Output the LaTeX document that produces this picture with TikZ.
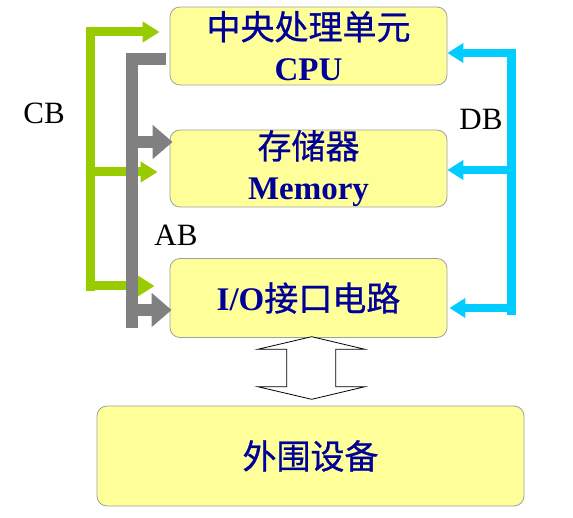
\documentclass[tikz,border=0pt]{standalone}
\usepackage{fontspec}
\setmainfont{Liberation Serif}
\newfontfamily\cjk[FakeBold=0.8]{Noto Sans CJK SC}
\usetikzlibrary{arrows.meta}
\definecolor{boxfill}{HTML}{FFFF99}
\definecolor{boxline}{HTML}{A0A0A0}
\definecolor{txtblue}{HTML}{000099}
\definecolor{cbgreen}{HTML}{99CC00}
\definecolor{abgray}{HTML}{808080}
\definecolor{dbblue}{HTML}{00CCFF}
\newcommand{\zh}[1]{{\fontsize{34}{41}\selectfont\cjk\mdseries #1}}
\begin{document}
\begin{tikzpicture}[x=1pt,y=-1pt,
  unit/.style={draw=boxline, fill=boxfill, rounded corners=10pt, line width=0.8pt,
    text=txtblue, font=\fontsize{33}{41}\selectfont\bfseries, align=center, inner sep=0pt,
    minimum width=277pt},
  buslabel/.style={font=\fontsize{31}{31}\selectfont, text=black},
  cbline/.style={draw=cbgreen, line width=9pt},
  cbarrow/.style={cbline, -{Triangle[length=17pt,width=20pt]}},
  abline/.style={draw=abgray, line width=12pt, line join=miter},
  abarrow/.style={abline, -{Triangle[length=20pt,width=33pt]}},
  dbline/.style={draw=dbblue, line width=8.5pt},
  dbarrow/.style={dbline, -{Triangle[length=16pt,width=19pt]}},
  dblarrow/.style={draw=black, fill=white, line width=0.8pt}]
\useasboundingbox (0,0) rectangle (573,518);
% units
\node[unit, minimum height=78pt] (cpu) at (308.5,46) {\zh{中央处理单元}\\CPU};
\node[unit, minimum height=77pt] (mem) at (308.5,168.5) {\zh{存储器}\\Memory};
\node[unit, minimum height=79pt] (io) at (308.5,298) {I/O\zh{接口电路}};
\node[unit, minimum width=427pt, minimum height=100pt] (per) at (310.5,456) {\zh{外围设备}};
% CB (green)
\coordinate (cbtop) at (90.5,27);
\coordinate (cbbot) at (90.5,291);
\draw[cbline] (cbtop) -- (cbbot);
\coordinate (cbcpu) at ([shift={(-10,-14)}]cpu.west);
\coordinate (cbmem) at ([shift={(-12,3.5)}]mem.west);
\coordinate (cbio) at ([shift={(-15,-12)}]io.west);
\draw[cbarrow] ([xshift=-4.5pt]cbtop |- cbcpu) -- (cbcpu);
\draw[cbarrow] (cbtop |- cbmem) -- (cbmem);
\draw[cbarrow] ([xshift=-4.5pt]cbtop |- cbio) -- (cbio);
% AB (gray)
\coordinate (abstart) at ([shift={(-4,13)}]cpu.west);
\coordinate (abtop) at (132,59);
\coordinate (abbot) at (132,328);
\draw[abline] (abstart) -- (abtop) -- (abbot);
\coordinate (abmem) at ([shift={(3,-26.5)}]mem.west);
\coordinate (abio) at ([shift={(2,12)}]io.west);
\draw[abarrow] (abtop |- abmem) -- (abmem);
\draw[abarrow] (abtop |- abio) -- (abio);
% DB (blue)
\coordinate (dbtop) at (511.5,49);
\coordinate (dbbot) at (511.5,315);
\draw[dbline] (dbtop) -- (dbbot);
\coordinate (dbcpu) at ([shift={(0,7)}]cpu.east);
\coordinate (dbmem) at ([shift={(0,1.5)}]mem.east);
\coordinate (dbio) at ([shift={(2,10)}]io.east);
\draw[dbarrow] ([xshift=4.25pt]dbtop |- dbcpu) -- (dbcpu);
\draw[dbarrow] (dbtop |- dbmem) -- (dbmem);
\draw[dbarrow] ([xshift=4.25pt]dbtop |- dbio) -- (dbio);
% labels
\node[buslabel] (cb) at (44,113) {CB};
\node[buslabel] (ab) at (176,235) {AB};
\node[buslabel] (db) at (481,119) {DB};
% double arrow between I/O and peripherals
\draw[dblarrow] (311.7,336.7) -- (365,349.3) -- (335.7,349.3) -- (335.7,386.7)
  -- (365,386.7) -- (311.7,399.3) -- (257.7,386.7) -- (286.7,386.7)
  -- (286.7,349.3) -- (257.7,349.3) -- cycle;
\end{tikzpicture}
\end{document}
